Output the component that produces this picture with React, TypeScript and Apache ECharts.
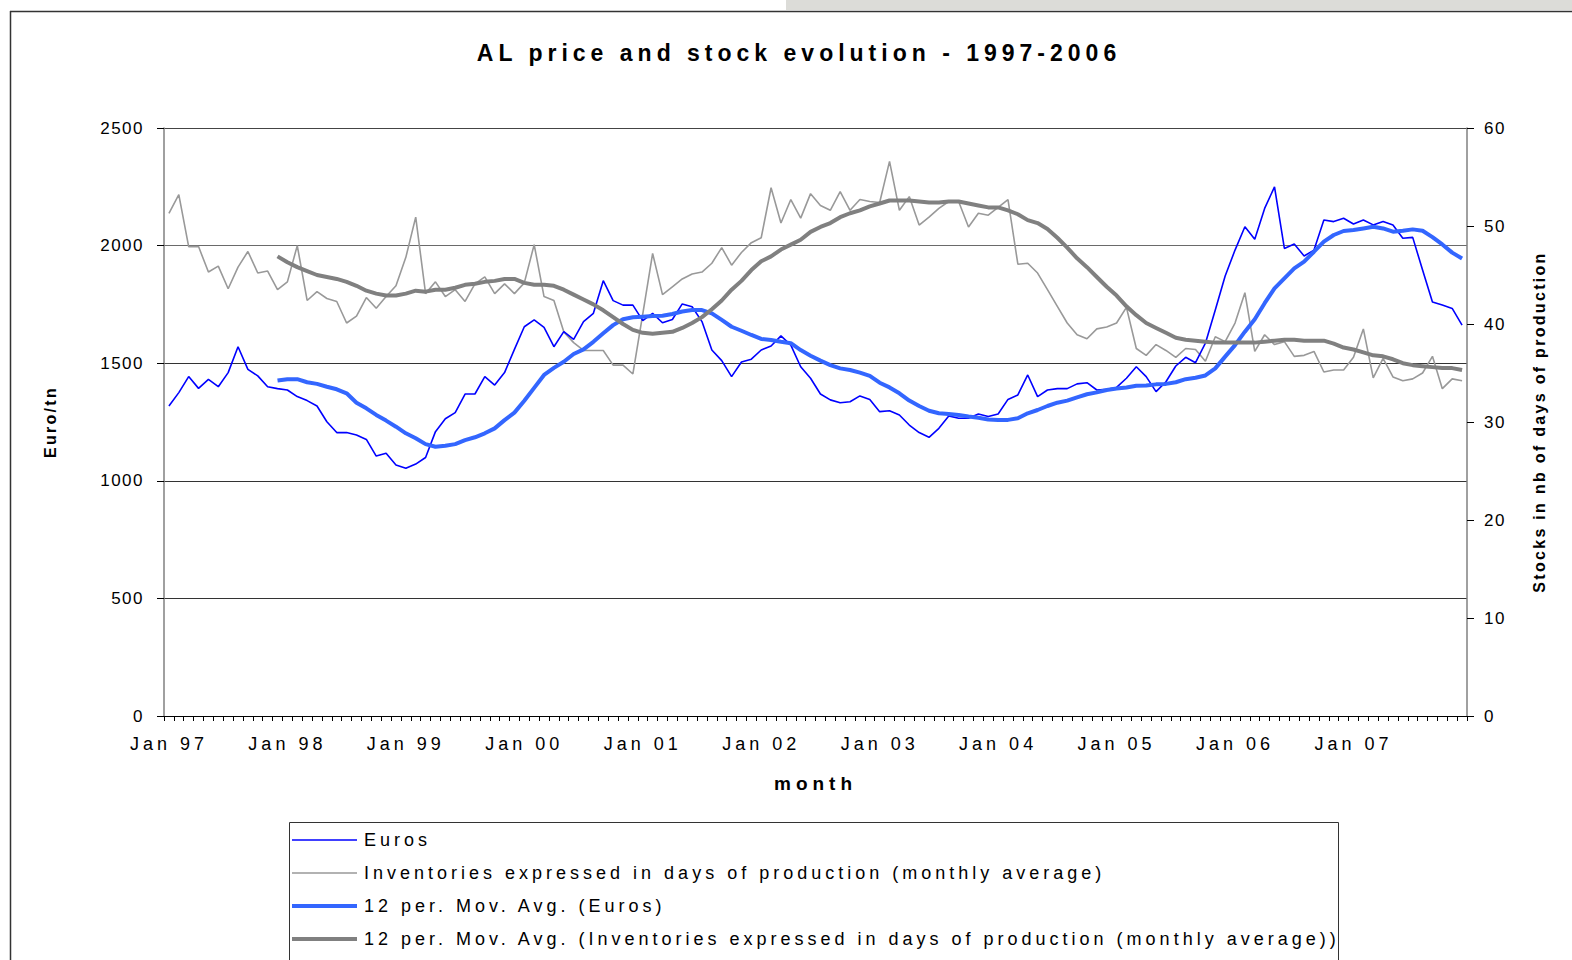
import React, { useEffect, useRef } from "react";
import * as echarts from "echarts";

// ---------- data ----------
const yearLabels = ["97", "98", "99", "00", "01", "02", "03", "04", "05", "06", "07"];
const monthNames = ["Jan", "Feb", "Mar", "Apr", "May", "Jun", "Jul", "Aug", "Sep", "Oct", "Nov", "Dec"];

// Monthly aluminium price, Euro/tn (Jan 97 .. Dec 07)
const euros = [
  1318, 1375, 1443, 1393, 1431, 1400, 1460, 1570, 1474, 1446, 1400, 1392,
  1386, 1358, 1341, 1318, 1251, 1205, 1205, 1195, 1176, 1105, 1117, 1067,
  1053, 1071, 1099, 1209, 1264, 1290, 1369, 1369, 1443, 1407, 1460, 1559,
  1655, 1684, 1652, 1570, 1634, 1601, 1677, 1712, 1851, 1766, 1747, 1747,
  1681, 1712, 1672, 1686, 1752, 1740, 1677, 1556, 1511, 1443, 1505, 1517,
  1556, 1573, 1616, 1577, 1485, 1436, 1369, 1344, 1332, 1336, 1361, 1346,
  1294, 1298, 1280, 1237, 1205, 1185, 1223, 1276, 1266, 1266, 1284, 1273,
  1284, 1346, 1365, 1450, 1358, 1386, 1392, 1392, 1412, 1417, 1386, 1389,
  1397, 1436, 1485, 1443, 1379, 1421, 1488, 1525, 1502, 1585, 1726, 1871,
  1981, 2080, 2027, 2158, 2250, 1988, 2007, 1956, 1981, 2109, 2102, 2116,
  2092, 2109, 2088, 2102, 2088, 2031, 2035, 1896, 1760, 1747, 1733, 1662,
];

// Inventories in days of production (monthly average)
const inventories = [
  51.3, 53.2, 47.9, 47.9, 45.3, 45.9, 43.6, 45.8, 47.4, 45.2, 45.4, 43.5,
  44.3, 48.0, 42.4, 43.3, 42.6, 42.3, 40.1, 40.8, 42.7, 41.6, 42.8, 43.9,
  46.8, 50.9, 43.1, 44.3, 42.8, 43.5, 42.3, 44.1, 44.8, 43.1, 44.1, 43.1,
  44.2, 48.1, 42.8, 42.4, 39.2, 38.1, 37.3, 37.3, 37.3, 35.8, 35.8, 34.9,
  41.0, 47.2, 43.0, 43.8, 44.6, 45.1, 45.3, 46.2, 47.8, 46.0, 47.3, 48.3,
  48.8, 53.9, 50.3, 52.7, 50.8, 53.3, 52.1, 51.6, 53.5, 51.6, 52.7, 52.5,
  52.4, 56.6, 51.6, 53.0, 50.1, 50.9, 51.8, 52.5, 52.5, 49.9, 51.3, 51.1,
  51.9, 52.7, 46.1, 46.2, 45.2, 43.5, 41.8, 40.1, 38.9, 38.5, 39.5, 39.7,
  40.1, 41.7, 37.5, 36.8, 37.9, 37.3, 36.6, 37.5, 37.4, 36.2, 38.7, 38.2,
  40.1, 43.2, 37.2, 38.9, 37.9, 38.2, 36.7, 36.8, 37.2, 35.1, 35.3, 35.3,
  36.6, 39.5, 34.5, 36.5, 34.6, 34.2, 34.4, 35.0, 36.7, 33.4, 34.4, 34.2,
];

// 12 per. moving average of Euros (starts Dec 97)
const eurosMovAvg = [
  null, null, null, null, null, null, null, null, null, null, null,
  1426, 1432, 1432, 1419, 1412, 1400, 1389, 1372, 1332, 1308, 1280, 1256,
  1230, 1202, 1181, 1156, 1145, 1149, 1156, 1173, 1185, 1202, 1223, 1258,
  1290, 1340, 1395, 1450, 1480, 1506, 1539, 1559, 1591, 1627, 1662, 1687,
  1695, 1698, 1701, 1702, 1709, 1720, 1726, 1726, 1712, 1684, 1655, 1638,
  1620, 1603, 1599, 1591, 1585, 1556, 1532, 1511, 1492, 1478, 1471, 1460,
  1446, 1417, 1397, 1372, 1341, 1318, 1298, 1287, 1284, 1280, 1273, 1268,
  1261, 1259, 1259, 1266, 1287, 1301, 1318, 1332, 1341, 1355, 1368, 1376,
  1386, 1392, 1397, 1404, 1405, 1410, 1412, 1419, 1432, 1438, 1448, 1478,
  1528, 1577, 1634, 1687, 1755, 1818, 1861, 1903, 1932, 1974, 2017, 2045,
  2062, 2066, 2073, 2080, 2073, 2059, 2063, 2069, 2063, 2036, 2005, 1970,
  1945,
];

// 12 per. moving average of inventories (starts Dec 97)
const inventoriesMovAvg = [
  null, null, null, null, null, null, null, null, null, null, null,
  46.9, 46.3, 45.8, 45.4, 45.0, 44.8, 44.6, 44.3, 43.9, 43.4, 43.1, 42.9,
  42.9, 43.1, 43.4, 43.3, 43.5, 43.5, 43.7, 44.0, 44.1, 44.3, 44.4, 44.6,
  44.6, 44.2, 44.0, 44.0, 43.9, 43.5, 43.0, 42.5, 42.0, 41.4, 40.7, 40.0,
  39.4, 39.1, 39.0, 39.1, 39.2, 39.6, 40.1, 40.7, 41.5, 42.4, 43.5, 44.4,
  45.5, 46.4, 46.9, 47.6, 48.1, 48.6, 49.4, 49.9, 50.3, 50.9, 51.3, 51.6,
  52.0, 52.3, 52.6, 52.6, 52.6, 52.5, 52.4, 52.4, 52.5, 52.5, 52.3, 52.1,
  51.9, 51.9, 51.6, 51.2, 50.6, 50.3, 49.7, 48.8, 47.8, 46.7, 45.8, 44.8,
  43.8, 42.9, 41.8, 40.9, 40.1, 39.6, 39.1, 38.6, 38.4, 38.3, 38.2, 38.1,
  38.1, 38.1, 38.1, 38.1, 38.2, 38.3, 38.4, 38.4, 38.3, 38.3, 38.3, 38.0,
  37.6, 37.4, 37.1, 36.8, 36.7, 36.4, 36.0, 35.8, 35.7, 35.6, 35.5, 35.5,
  35.3,
];

const seriesNames = [
  "Euros",
  "Inventories expressed in days of production (monthly average)",
  "12 per. Mov. Avg. (Euros)",
  "12 per. Mov. Avg. (Inventories expressed in days of production (monthly average))",
];

const months: string[] = [];
yearLabels.forEach((y) => monthNames.forEach((m) => months.push(`${m} ${y}`)));

const FONT = "'Liberation Sans', Arial, sans-serif";

function buildOption(): any {
  return {
    animation: false,
    backgroundColor: "#ffffff",
    textStyle: { fontFamily: FONT, color: "#000" },
    graphic: [
      { type: "rect", z: 0, shape: { x: 786, y: 0, width: 786, height: 10 }, style: { fill: "#dcdcd8" } },
      { type: "line", z: 0, shape: { x1: 10, y1: 11.5, x2: 1572, y2: 11.5 }, style: { stroke: "#333", lineWidth: 1.5 } },
      { type: "line", z: 0, shape: { x1: 10.5, y1: 11, x2: 10.5, y2: 960 }, style: { stroke: "#333", lineWidth: 1.5 } },
      {
        type: "rect",
        z: 1,
        shape: { x: 289.5, y: 822.5, width: 1049, height: 160 },
        style: { fill: "#fff", stroke: "#333", lineWidth: 1 },
      },
      {
        type: "text",
        z: 5,
        x: 799,
        y: 53,
        style: {
          text: "AL price and stock evolution - 1997-2006",
          textAlign: "center",
          textVerticalAlign: "middle",
          font: `bold 23px ${FONT}`,
          fill: "#000",
        },
      },
    ],
    legend: {
      orient: "vertical",
      left: 290,
      top: 831,
      padding: 0,
      itemWidth: 65,
      itemHeight: 14,
      itemGap: 15,
      itemStyle: { opacity: 0 },
      lineStyle: { width: "inherit" },
      textStyle: { fontSize: 18, color: "#000", fontFamily: FONT, padding: [0, 0, 0, 2] },
      data: seriesNames,
    },
    grid: { left: 164, right: 105, top: 128, bottom: 244, containLabel: false },
    xAxis: {
      type: "category",
      data: months,
      boundaryGap: true,
      axisLine: { lineStyle: { color: "#000", width: 1 } },
      axisTick: { show: true, interval: 0, length: 5, lineStyle: { color: "#000" } },
      axisLabel: { interval: 11, fontSize: 18, margin: 19, color: "#000" },
      splitLine: { show: false },
      name: "month",
      nameLocation: "middle",
      nameGap: 58,
      nameTextStyle: { fontSize: 19, fontWeight: "bold", color: "#000" },
    },
    yAxis: [
      {
        type: "value",
        min: 0,
        max: 2500,
        interval: 500,
        position: "left",
        axisLine: { show: true, lineStyle: { color: "#808080", width: 1.5 } },
        axisTick: { show: true, length: 7, lineStyle: { color: "#000" } },
        axisLabel: { fontSize: 17, margin: 20, color: "#000", formatter: (v: number) => String(v) },
        splitLine: {
          show: true,
          lineStyle: { color: ["#333", "#333", "#333", "#333", "#6a6a6a", "#444"], width: 1.2 },
        },
        name: "Euro/tn",
        nameLocation: "middle",
        nameRotate: 90,
        nameGap: 106,
        nameTextStyle: { fontSize: 16, fontWeight: "bold", color: "#000" },
      },
      {
        type: "value",
        min: 0,
        max: 60,
        interval: 10,
        position: "right",
        axisLine: { show: true, lineStyle: { color: "#808080", width: 1.5 } },
        axisTick: { show: true, length: 7, lineStyle: { color: "#000" } },
        axisLabel: { fontSize: 17, margin: 17, color: "#000", formatter: (v: number) => String(v) },
        splitLine: { show: false },
        name: "Stocks in nb of days of production",
        nameLocation: "middle",
        nameRotate: 90,
        nameGap: 64,
        nameTextStyle: { fontSize: 16, fontWeight: "bold", color: "#000" },
      },
    ],
    series: [
      {
        name: seriesNames[0],
        type: "line",
        yAxisIndex: 0,
        data: euros,
        symbol: "none",
        z: 3,
        lineStyle: { color: "#0000ff", width: 1.6 },
        itemStyle: { color: "#0000ff" },
      },
      {
        name: seriesNames[1],
        type: "line",
        yAxisIndex: 1,
        data: inventories,
        symbol: "none",
        z: 2,
        lineStyle: { color: "#999999", width: 1.6 },
        itemStyle: { color: "#999999" },
      },
      {
        name: seriesNames[2],
        type: "line",
        yAxisIndex: 0,
        data: eurosMovAvg,
        symbol: "none",
        z: 4,
        lineStyle: { color: "#3366ff", width: 4 },
        itemStyle: { color: "#3366ff" },
      },
      {
        name: seriesNames[3],
        type: "line",
        yAxisIndex: 1,
        data: inventoriesMovAvg,
        symbol: "none",
        z: 4,
        lineStyle: { color: "#808080", width: 4 },
        itemStyle: { color: "#808080" },
      },
    ],
  };
}

const CSS = `
.al-chart text { letter-spacing: 3px; }
.al-chart text[style*="18px"] { letter-spacing: 4px; }
.al-chart text[style*="17px"] { letter-spacing: 1.5px; }
.al-chart text[style*="16px"] { letter-spacing: 2.3px; }
.al-chart text[style*="19px"] { letter-spacing: 5px; }
.al-chart text[style*="23px"] { letter-spacing: 5px; }
`;

export default function App() {
  const ref = useRef<HTMLDivElement>(null);
  useEffect(() => {
    if (!ref.current) return;
    const chart = echarts.init(ref.current, null, { renderer: "svg" });
    chart.setOption(buildOption());
    return () => chart.dispose();
  }, []);
  return (
    <>
      <style>{CSS}</style>
      <div
        ref={ref}
        className="al-chart"
        style={{ position: "fixed", left: 0, top: 0, width: 1572, height: 960, background: "#fff" }}
      />
    </>
  );
}
